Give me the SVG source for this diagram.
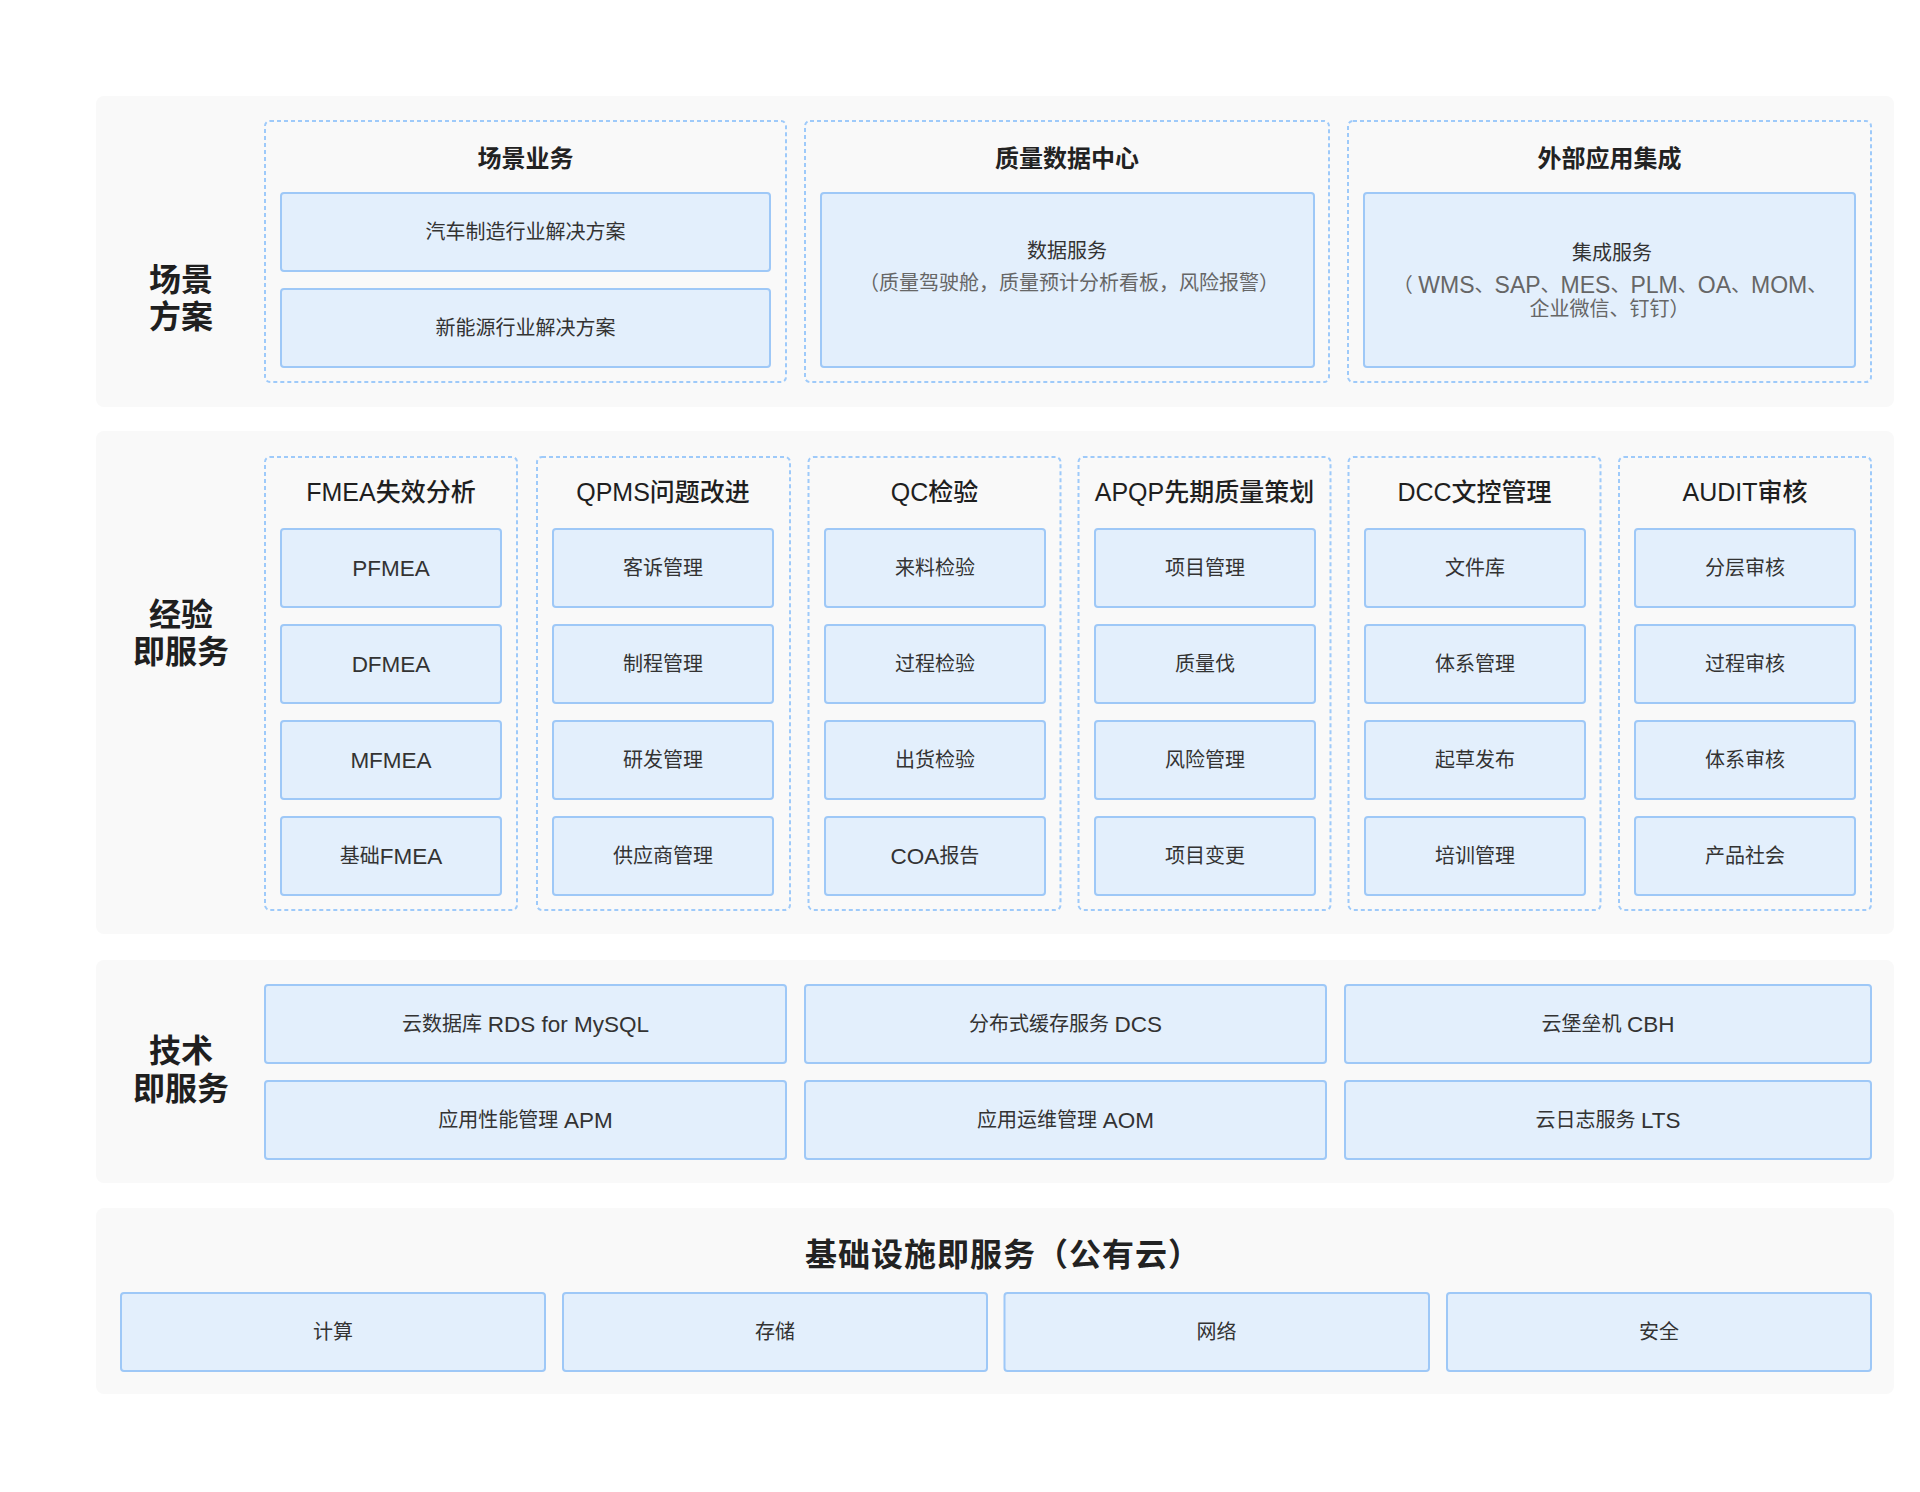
<svg xmlns="http://www.w3.org/2000/svg" width="1920" height="1492" viewBox="0 0 1920 1492">
<style>
text{font-family:"Liberation Sans","Noto Sans CJK SC",sans-serif;text-anchor:middle;dominant-baseline:central}
.band{fill:#f9f9f9}
.dash{fill:none;stroke:#9ecafa;stroke-width:2;stroke-dasharray:4 3}
.box{fill:#e3effc;stroke:#9ec8f7;stroke-width:2}
.lbl{font-size:32px;font-weight:bold;fill:#1f1f1f}
.ttl{font-size:24px;font-weight:bold;fill:#222}
.ttl2{font-size:25px;font-weight:500;fill:#1f1f1f}
.it{font-size:20px;fill:#333}
.gr{font-size:20px;fill:#666}
.lt{font-size:22.5px}
.lt2{font-size:23px}
.big{font-size:32px;font-weight:bold;fill:#222;letter-spacing:1px}
</style>
<rect width="1920" height="1492" fill="#ffffff"/>
<g id="bands">
<rect class="band" x="96" y="96" width="1798" height="311" rx="8"/>
<rect class="band" x="96" y="431" width="1798" height="503" rx="8"/>
<rect class="band" x="96" y="960" width="1798" height="223" rx="8"/>
<rect class="band" x="96" y="1208" width="1798" height="186" rx="8"/>
</g>
<g id="connectors"></g>
<g id="layer1">
<text class="lbl" x="181" y="280">场景</text>
<text class="lbl" x="181" y="317">方案</text>
<g id="scene-business">
<rect class="dash" x="265" y="121" width="521" height="261" rx="5"/>
<text class="ttl" x="525.5" y="158">场景业务</text>
<rect class="box" x="281" y="193" width="489" height="78" rx="3"/>
<text class="it" x="525.5" y="232">汽车制造行业解决方案</text>
<rect class="box" x="281" y="289" width="489" height="78" rx="3"/>
<text class="it" x="525.5" y="328">新能源行业解决方案</text>
</g>
<g id="quality-data">
<rect class="dash" x="805" y="121" width="524" height="261" rx="5"/>
<text class="ttl" x="1067" y="158">质量数据中心</text>
<rect class="box" x="821" y="193" width="493" height="174" rx="3"/>
<text class="it" x="1067" y="251">数据服务</text>
<text class="gr" x="1069" y="283">（质量驾驶舱，质量预计分析看板，风险报警）</text>
</g>
<g id="external-integration">
<rect class="dash" x="1348" y="121" width="523" height="261" rx="5"/>
<text class="ttl" x="1609.5" y="158">外部应用集成</text>
<rect class="box" x="1364" y="193" width="491" height="174" rx="3"/>
<text class="it" x="1612" y="253">集成服务</text>
<text class="gr" x="1610" y="285">（ <tspan class="lt2">WMS</tspan>、<tspan class="lt2">SAP</tspan>、<tspan class="lt2">MES</tspan>、<tspan class="lt2">PLM</tspan>、<tspan class="lt2">OA</tspan>、<tspan class="lt2">MOM</tspan>、</text>
<text class="gr" x="1609.5" y="309">企业微信、钉钉）</text>
</g>
</g>
<g id="layer2">
<text class="lbl" x="181" y="615">经验</text>
<text class="lbl" x="181" y="652">即服务</text>
<g id="fmea">
<rect class="dash" x="265" y="457" width="252" height="453" rx="5"/>
<text class="ttl2" x="391" y="492">FMEA失效分析</text>
<rect class="box" x="281" y="529" width="220" height="78" rx="3"/><text class="it lt" x="391" y="568">PFMEA</text>
<rect class="box" x="281" y="625" width="220" height="78" rx="3"/><text class="it lt" x="391" y="664">DFMEA</text>
<rect class="box" x="281" y="721" width="220" height="78" rx="3"/><text class="it lt" x="391" y="760">MFMEA</text>
<rect class="box" x="281" y="817" width="220" height="78" rx="3"/><text class="it" x="391" y="856">基础<tspan class="lt">FMEA</tspan></text>
</g>
<g id="qpms">
<rect class="dash" x="537" y="457" width="253" height="453" rx="5"/>
<text class="ttl2" x="663" y="492">QPMS问题改进</text>
<rect class="box" x="553" y="529" width="220" height="78" rx="3"/><text class="it" x="663" y="568">客诉管理</text>
<rect class="box" x="553" y="625" width="220" height="78" rx="3"/><text class="it" x="663" y="664">制程管理</text>
<rect class="box" x="553" y="721" width="220" height="78" rx="3"/><text class="it" x="663" y="760">研发管理</text>
<rect class="box" x="553" y="817" width="220" height="78" rx="3"/><text class="it" x="663" y="856">供应商管理</text>
</g>
<g id="qc">
<rect class="dash" x="808.5" y="457" width="252" height="453" rx="5"/>
<text class="ttl2" x="934.5" y="492">QC检验</text>
<rect class="box" x="825" y="529" width="220" height="78" rx="3"/><text class="it" x="935" y="568">来料检验</text>
<rect class="box" x="825" y="625" width="220" height="78" rx="3"/><text class="it" x="935" y="664">过程检验</text>
<rect class="box" x="825" y="721" width="220" height="78" rx="3"/><text class="it" x="935" y="760">出货检验</text>
<rect class="box" x="825" y="817" width="220" height="78" rx="3"/><text class="it" x="935" y="856"><tspan class="lt">COA</tspan>报告</text>
</g>
<g id="apqp">
<rect class="dash" x="1078.5" y="457" width="252" height="453" rx="5"/>
<text class="ttl2" x="1204.5" y="492">APQP先期质量策划</text>
<rect class="box" x="1095" y="529" width="220" height="78" rx="3"/><text class="it" x="1205" y="568">项目管理</text>
<rect class="box" x="1095" y="625" width="220" height="78" rx="3"/><text class="it" x="1205" y="664">质量伐</text>
<rect class="box" x="1095" y="721" width="220" height="78" rx="3"/><text class="it" x="1205" y="760">风险管理</text>
<rect class="box" x="1095" y="817" width="220" height="78" rx="3"/><text class="it" x="1205" y="856">项目变更</text>
</g>
<g id="dcc">
<rect class="dash" x="1348.5" y="457" width="252" height="453" rx="5"/>
<text class="ttl2" x="1474.5" y="492">DCC文控管理</text>
<rect class="box" x="1365" y="529" width="220" height="78" rx="3"/><text class="it" x="1475" y="568">文件库</text>
<rect class="box" x="1365" y="625" width="220" height="78" rx="3"/><text class="it" x="1475" y="664">体系管理</text>
<rect class="box" x="1365" y="721" width="220" height="78" rx="3"/><text class="it" x="1475" y="760">起草发布</text>
<rect class="box" x="1365" y="817" width="220" height="78" rx="3"/><text class="it" x="1475" y="856">培训管理</text>
</g>
<g id="audit">
<rect class="dash" x="1619" y="457" width="252" height="453" rx="5"/>
<text class="ttl2" x="1745" y="492">AUDIT审核</text>
<rect class="box" x="1635" y="529" width="220" height="78" rx="3"/><text class="it" x="1745" y="568">分层审核</text>
<rect class="box" x="1635" y="625" width="220" height="78" rx="3"/><text class="it" x="1745" y="664">过程审核</text>
<rect class="box" x="1635" y="721" width="220" height="78" rx="3"/><text class="it" x="1745" y="760">体系审核</text>
<rect class="box" x="1635" y="817" width="220" height="78" rx="3"/><text class="it" x="1745" y="856">产品社会</text>
</g>
</g>
<g id="layer3">
<text class="lbl" x="181" y="1051">技术</text>
<text class="lbl" x="181" y="1089">即服务</text>
<g id="rds"><rect class="box" x="265" y="985" width="521" height="78" rx="3"/><text class="it" x="525.5" y="1024">云数据库 <tspan class="lt">RDS for MySQL</tspan></text></g>
<g id="dcs"><rect class="box" x="805" y="985" width="521" height="78" rx="3"/><text class="it" x="1065.5" y="1024">分布式缓存服务 <tspan class="lt">DCS</tspan></text></g>
<g id="cbh"><rect class="box" x="1345" y="985" width="526" height="78" rx="3"/><text class="it" x="1608" y="1024">云堡垒机 <tspan class="lt">CBH</tspan></text></g>
<g id="apm"><rect class="box" x="265" y="1081" width="521" height="78" rx="3"/><text class="it" x="525.5" y="1120">应用性能管理 <tspan class="lt">APM</tspan></text></g>
<g id="aom"><rect class="box" x="805" y="1081" width="521" height="78" rx="3"/><text class="it" x="1065.5" y="1120">应用运维管理 <tspan class="lt">AOM</tspan></text></g>
<g id="lts"><rect class="box" x="1345" y="1081" width="526" height="78" rx="3"/><text class="it" x="1608" y="1120">云日志服务 <tspan class="lt">LTS</tspan></text></g>
</g>
<g id="layer4">
<text class="big" x="1003" y="1255">基础设施即服务（公有云）</text>
<g id="compute"><rect class="box" x="121" y="1293" width="424" height="78" rx="3"/><text class="it" x="333" y="1332">计算</text></g>
<g id="storage"><rect class="box" x="563" y="1293" width="424" height="78" rx="3"/><text class="it" x="775" y="1332">存储</text></g>
<g id="network"><rect class="box" x="1004.5" y="1293" width="424.5" height="78" rx="3"/><text class="it" x="1216.5" y="1332">网络</text></g>
<g id="security"><rect class="box" x="1447" y="1293" width="424" height="78" rx="3"/><text class="it" x="1659" y="1332">安全</text></g>
</g>
</svg>
